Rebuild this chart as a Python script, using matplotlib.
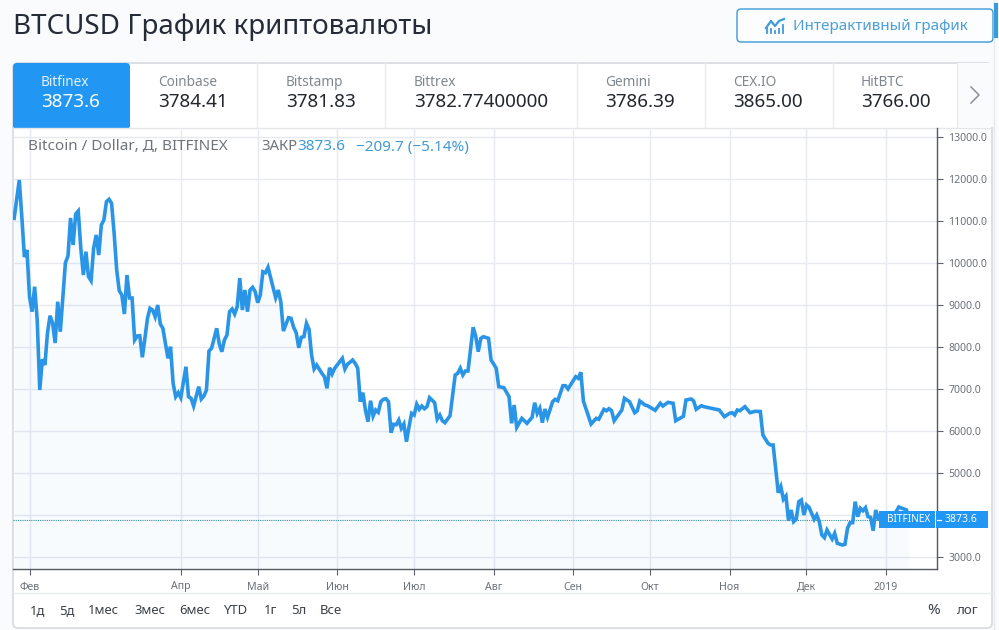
import numpy as np
import matplotlib
matplotlib.use("Agg")
import matplotlib.pyplot as plt
import matplotlib.dates as mdates
from matplotlib.patches import Rectangle, FancyBboxPatch

plt.rcParams['font.family'] = ['Noto Sans', 'DejaVu Sans']

title = "BTCUSD График криптовалюты"
button_label = "Интерактивный график"
exchanges = ["Bitfinex", "Coinbase", "Bitstamp", "Bittrex", "Gemini", "CEX.IO", "HitBTC"]
quotes = ["3873.6", "3784.41", "3781.83", "3782.77400000", "3786.39", "3865.00", "3766.00"]
ranges = ["1д", "5д", "1мес", "3мес", "6мес", "YTD", "1г", "5л", "Все"]
month_starts = ["2018-02-01", "2018-04-01", "2018-05-01", "2018-06-01", "2018-07-01", "2018-08-01",
                "2018-09-01", "2018-10-01", "2018-11-01", "2018-12-01", "2019-01-01"]
month_labels = ["Фев", "Апр", "Май", "Июн", "Июл", "Авг", "Сен", "Окт", "Ноя", "Дек", "2019"]
price_ticks = [3000, 4000, 5000, 6000, 7000, 8000, 9000, 10000, 11000, 12000, 13000]
price_labels = ["3000.0", "", "5000.0", "6000.0", "7000.0", "8000.0", "9000.0", "10000.0", "11000.0", "12000.0", "13000.0"]
last_price = 3873.6

# days relative to 2018-02-01
days = [-6, -4, -3, -2, -1, 0, 1, 2, 3, 4, 5, 6, 7, 8, 9, 10, 11, 12, 14, 15, 16, 17, 18, 19, 20, 21, 22, 23, 24, 25,
        26, 27, 28, 29, 30, 31, 32, 33, 34, 35, 36, 37, 38, 39, 40, 41, 42, 43, 44, 45, 46, 47, 48, 49, 50, 51, 52,
        53, 54, 55, 56, 57, 58, 59, 61, 62, 63, 64, 66, 67, 68, 69, 70, 71, 73, 74, 75, 76, 77, 78, 79, 80, 81, 82,
        83, 84, 85, 86, 87, 88, 89, 90, 91, 92, 93, 96, 97, 98, 99, 101, 102, 103, 104, 105, 106, 107, 108, 109, 110,
        111, 112, 114, 115, 116, 117, 118, 119, 120, 122, 123, 124, 126, 127, 128, 129, 130, 131, 132, 133, 134, 135,
        136, 137, 138, 139, 140, 141, 142, 143, 144, 145, 146, 147, 148, 149, 150, 151, 152, 153, 154, 155, 156, 158,
        159, 160, 161, 162, 164, 166, 167, 168, 169, 170, 171, 173, 174, 175, 176, 177, 179, 180, 181, 182, 183, 185,
        187, 188, 189, 190, 192, 194, 196, 197, 198, 199, 200, 201, 202, 204, 205, 206, 208, 209, 210, 213, 214, 215,
        216, 219, 221, 222, 224, 225, 226, 227, 228, 231, 232, 234, 236, 237, 238, 240, 241, 244, 246, 247, 249, 251,
        252, 255, 256, 258, 259, 260, 262, 263, 269, 271, 273, 274, 275, 276, 277, 279, 281, 283, 285, 286, 288, 289,
        290, 292, 293, 294, 295, 296, 297, 298, 299, 300, 301, 302, 303, 304, 306, 307, 308, 309, 310, 311, 313, 314,
        315, 317, 318, 319, 320, 321, 322, 323, 324, 325, 326, 327, 328, 329, 330, 331, 332, 334, 335, 337, 339, 342,
        343]
prices = [11064, 11976, 11103, 10143, 10310, 9198, 8841, 9436, 8643, 6976, 7707, 7572, 8333, 8745, 8572, 8095, 9079,
          8364, 10007, 10167, 11072, 10429, 11167, 11238, 10357, 9714, 10269, 9674, 9579, 10350, 10667, 10191, 10905,
          11024, 11460, 11517, 11422, 10707, 9833, 9341, 9238, 8786, 9714, 9167, 9167, 8167, 8262, 8269, 7755, 8207,
          8683, 8921, 8881, 8722, 9000, 8548, 8445, 8088, 7731, 8007, 7136, 6817, 6912, 6793, 7531, 6817, 6779, 6595,
          7055, 6762, 6833, 6976, 7905, 7969, 8445, 8072, 7888, 8167, 8286, 8841, 8905, 8786, 8960, 9640, 8881, 9357,
          8841, 9357, 9421, 9317, 9055, 9238, 9793, 9769, 9898, 9174, 9357, 9079, 8381, 8698, 8683, 8469, 8341, 7983,
          8231, 8245, 8564, 8421, 7810, 7476, 7571, 7374, 7293, 7017, 7507, 7357, 7493, 7571, 7731, 7476, 7588, 7690,
          7612, 7493, 6698, 6912, 6500, 6222, 6721, 6357, 6500, 6445, 6698, 6755, 6769, 6698, 5960, 6160, 6150, 6262,
          6064, 6167, 5745, 6102, 6421, 6381, 6636, 6517, 6595, 6531, 6579, 6793, 6674, 6286, 6381, 6245, 6198, 6364,
          7333, 7374, 7493, 7333, 7429, 7429, 8469, 8262, 7888, 8207, 8245, 8207, 7690, 7595, 7493, 7055, 7031, 6817,
          6183, 6619, 6088, 6302, 6183, 6326, 6674, 6421, 6540, 6198, 6524, 6326, 6698, 6755, 6721, 7079, 7079, 7000,
          7293, 7255, 7398, 6714, 6167, 6302, 6279, 6517, 6483, 6531, 6483, 6245, 6500, 6779, 6698, 6436, 6483, 6714,
          6619, 6602, 6493, 6660, 6595, 6683, 6660, 6245, 6350, 6738, 6762, 6714, 6517, 6602, 6579, 6500, 6341, 6421,
          6436, 6381, 6500, 6483, 6579, 6436, 6469, 6464, 5905, 5707, 5667, 5667, 4531, 4674, 4374, 4452, 3864, 4119,
          3841, 3898, 4317, 4357, 4000, 4238, 4183, 3898, 4000, 3841, 3524, 3460, 3643, 3429, 3564, 3326, 3286, 3302,
          3683, 3817, 3817, 4317, 3960, 4160, 4102, 4174, 3960, 3945, 3626, 4119, 3921, 3960, 4000, 3920, 3980, 4190,
          4119, 3873.6]

BLUE = '#2196f3'
W, H = 999, 630
fig = plt.figure(figsize=(W / 100, H / 100), dpi=100, facecolor='#f9fbfd')

# page furniture, in pixel coordinates
bg = fig.add_axes([0, 0, 1, 1], zorder=0)
bg.set_xlim(0, W)
bg.set_ylim(H, 0)
bg.axis('off')
bg.add_patch(FancyBboxPatch((15, 65), 975, 561, boxstyle="round,pad=2,rounding_size=5",
                            fc='white', ec='#d6dade', lw=1.2))
bg.add_patch(Rectangle((958, 63), 35, 64, fc='#f9fbfd', ec='none'))
bg.add_patch(FancyBboxPatch((15, 65), 113, 62, boxstyle="round,pad=2,rounding_size=4", fc=BLUE, ec='none'))
bg.add_patch(Rectangle((13, 100), 117, 27, fc=BLUE, ec='none'))
for sx in [257, 385, 576.5, 705, 833, 957]:
    bg.plot([sx, sx], [63, 127], color='#e9ebee', lw=1)
bg.plot([13, 993], [127.5, 127.5], color='#e4e6ea', lw=1)
bg.plot([13, 993], [593, 593], color='#e9ebee', lw=1)
bg.plot([971, 979, 971], [87, 95, 103], color='#8a9097', lw=1.1)
bg.plot([993.5, 993.5], [0, 630], color='#e6e8ea', lw=1)
bg.plot([995.5, 995.5], [5, 36], color='#3d9ad8', lw=3)

bg.text(13, 27, title, fontsize=20, color='#252c38', va='center', ha='left')
bg.add_patch(FancyBboxPatch((739, 11), 252, 29, boxstyle="round,pad=2,rounding_size=4",
                            fc='#fbfdfe', ec='#3a9bd5', lw=1.0))
bg.text(793, 27, button_label, fontsize=11, color='#4f9fd6', va='center', ha='left')
bg.plot([766, 771, 775, 779, 784], [28, 21, 26, 21, 19], color='#3f9ad6', lw=1.6)
for bx, bh in zip([767, 771, 775, 779, 783], [5, 4, 2, 4, 8]):
    bg.plot([bx, bx], [33, 33 - bh], color='#3f9ad6', lw=1.3)

name_x = [41, 158, 286, 414, 605, 733, 861]
for i, (nm, q, nx) in enumerate(zip(exchanges, quotes, name_x)):
    bg.text(nx, 83, nm, fontsize=9.8, color='#e3f1fd' if i == 0 else '#80868d', va='center', ha='left')
    bg.text(nx, 102, q, fontsize=13.6, color='white' if i == 0 else '#23272d', va='center', ha='left',
            fontweight='bold' if i == 0 else 'normal')

range_x = [30, 59, 88, 134, 179, 224, 264, 291, 320]
for lab, rx in zip(ranges, range_x):
    bg.text(rx, 611, lab, fontsize=9.4, color='#3c4147', va='center', ha='left')
bg.text(934, 611, "%", fontsize=11, color='#3c4147', va='center', ha='center')
bg.text(967, 611, "лог", fontsize=9.6, color='#3c4147', va='center', ha='center')

# chart
L, R, T, B = 13, 937, 128, 569
ax = fig.add_axes([L / W, 1 - B / H, (R - L) / W, (B - T) / H], zorder=1)
ax.patch.set_alpha(0)
base = mdates.date2num(np.datetime64('2018-02-01'))
x = base + np.array(days)
y = np.array(prices, dtype=float)
tick_x = mdates.date2num(np.array(month_starts, dtype='datetime64[D]'))

ax.set_xlim(base - 6.44, base + 353.9)
ax.set_ylim(2714.3, 13214.3)
ax.yaxis.tick_right()
ax.set_yticks(price_ticks)
ax.set_yticklabels(price_labels, fontsize=7.6, color='#6b7078')
ax.set_xticks(tick_x)
ax.set_xticklabels(month_labels, fontsize=7.6, color='#6b7078')
ax.tick_params(axis='y', length=4, width=0.8, color='#5d6167', pad=4)
ax.tick_params(axis='x', length=4, width=0.8, color='#5d6167', pad=5)
ax.grid(True, color='#e6e9ee', lw=1)
ax.set_axisbelow(True)
for s in ['top', 'left']:
    ax.spines[s].set_visible(False)
for s in ['right', 'bottom']:
    ax.spines[s].set_color('#55595f')
    ax.spines[s].set_linewidth(1)

ax.fill_between(x, y, 2714.3, color=BLUE, alpha=0.035, lw=0)
ax.plot(x, y, color='#2a95e6', lw=2.6, solid_joinstyle='miter', zorder=3)
ax.axhline(last_price, color='#2f8f9f', lw=0.8, ls=(0, (1, 1)), zorder=2)

# overlay texts and last-price tags
fg = fig.add_axes([0, 0, 1, 1], zorder=2)
fg.set_xlim(0, W)
fg.set_ylim(H, 0)
fg.axis('off')
fg.patch.set_alpha(0)
fg.text(28, 147, "Bitcoin / Dollar, Д, BITFINEX", fontsize=11, color='#6f747b', va='center', ha='left')
fg.text(261, 147, "ЗАКР", fontsize=10.6, color='#6f747b', va='center', ha='left')
fg.text(297, 147, quotes[0], fontsize=11, color='#3f9ad6', va='center', ha='left')
fg.text(356, 147, "−209.7 (−5.14%)", fontsize=11, color='#3f9ad6', va='center', ha='left')
fg.add_patch(Rectangle((879, 511), 56, 17, fc=BLUE, ec='none'))
fg.add_patch(Rectangle((936, 511), 51.5, 17, fc=BLUE, ec='none'))
fg.plot([937, 941], [519.5, 519.5], color='white', lw=0.9)
fg.text(909, 519.5, "BITFINEX", fontsize=7.2, color='white', va='center', ha='center')
fg.text(961, 519.5, "3873.6", fontsize=7.6, color='white', va='center', ha='center', fontweight='bold')

fig.savefig("out.png", dpi=100, facecolor=fig.get_facecolor())
